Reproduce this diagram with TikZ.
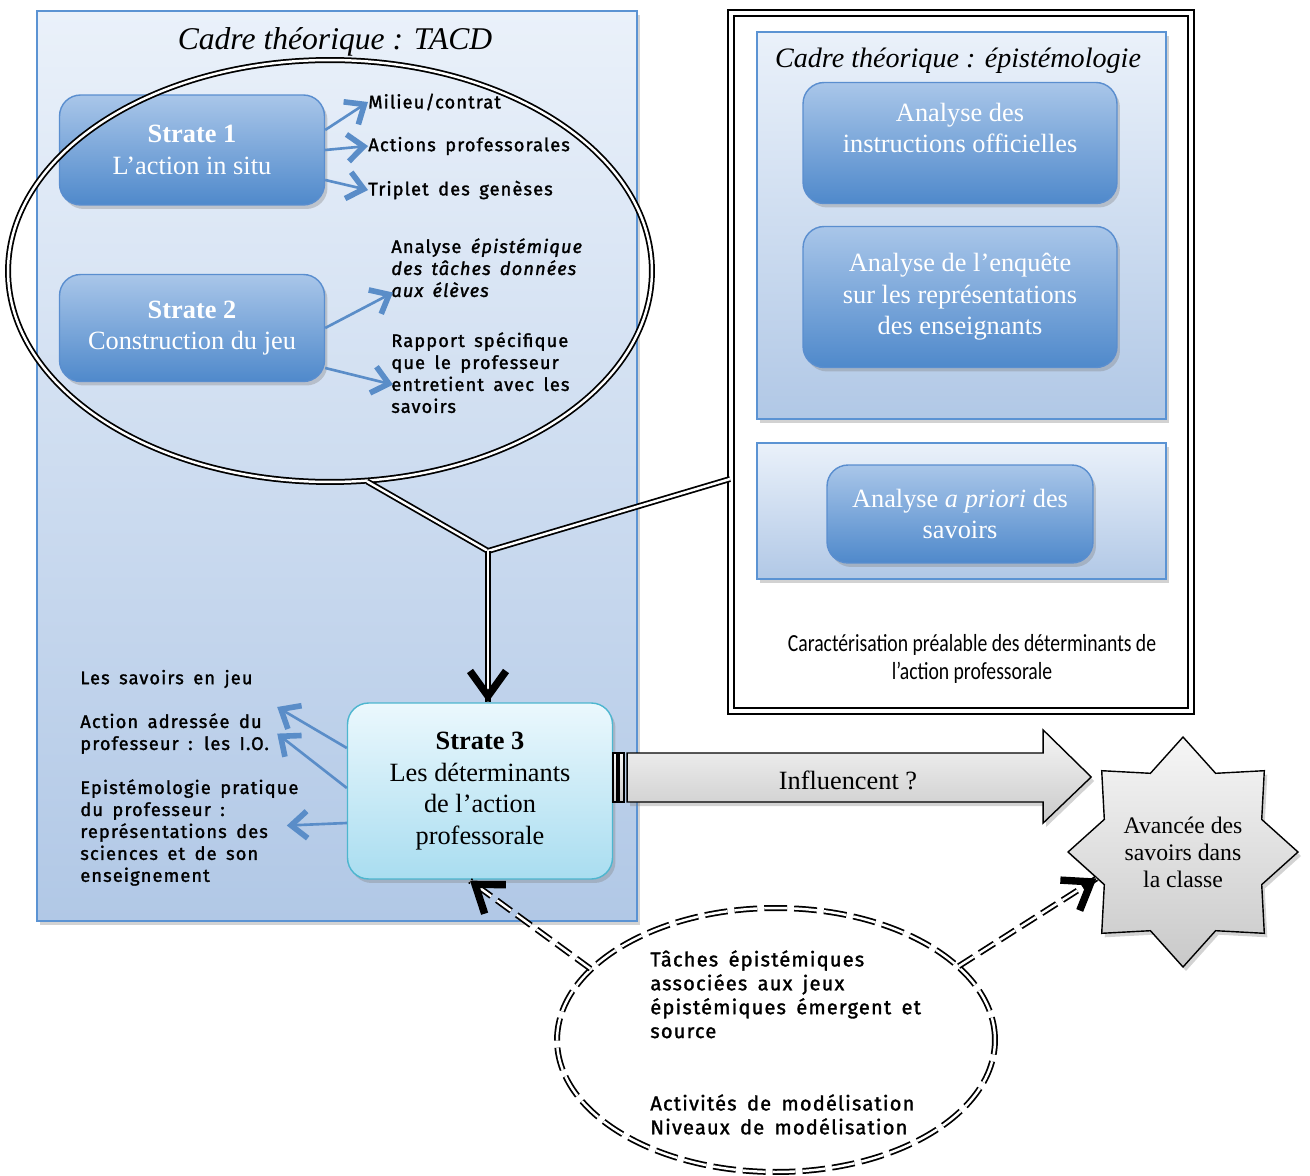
\documentclass[tikz,border=0pt]{standalone}
\usepackage{fontspec}
\setmainfont{Liberation Serif}
\newfontfamily\handfont[LetterSpace=6,WordSpace=1.6,FakeBold=1.5]{Fira Sans}
\newfontfamily\titlefont{Liberation Serif}
\newfontfamily\caracfont[FakeStretch=0.8]{Carlito}
\usetikzlibrary{shapes, arrows.meta, positioning, shadows, calc}

\definecolor{paneltop}{HTML}{EAF1FA}
\definecolor{panelbot}{HTML}{B1C8E6}
\definecolor{panelline}{HTML}{5B93D3}
\definecolor{stratetop}{HTML}{A9C6E9}
\definecolor{stratebot}{HTML}{4F89CB}
\definecolor{strateline}{HTML}{5A8ECF}
\definecolor{cyantop}{HTML}{EBF8FD}
\definecolor{cyanbot}{HTML}{A9DDF0}
\definecolor{cyanline}{HTML}{4DB6CF}
\definecolor{arrowblue}{HTML}{5A8DC8}
\definecolor{greytop}{HTML}{F6F6F6}
\definecolor{greybot}{HTML}{C9C9C9}

\tikzstyle{shadowed} = [drop shadow={shadow xshift=0.6mm, shadow yshift=-0.8mm, opacity=0.35}]
\tikzstyle{panel} = [draw=panelline, line width=1pt, top color=paneltop, bottom color=panelbot, rectangle, anchor=north west, inner sep=0pt, shadowed]
\tikzstyle{strate} = [draw=strateline, line width=0.8pt, rounded corners=12pt, top color=stratetop, bottom color=stratebot, text=white, align=center, font=\fontsize{15}{18}\selectfont, shadowed]
\tikzstyle{hand} = [font=\handfont\fontsize{10.4}{12.5}\selectfont, align=left, inner sep=0pt, anchor=north west]
\tikzstyle{bluearrow} = [draw=arrowblue, line width=1.5pt, -{Straight Barb[length=3.2mm,width=5.4mm,line width=3.2pt]}]
\tikzstyle{dbl} = [double, double distance=1.4pt, line width=1pt]
\tikzstyle{blackhead} = [line width=3pt, -{Straight Barb[length=5mm,width=7.2mm,line width=4.2pt]}]

\begin{document}
\begin{tikzpicture}[x=0.02cm, y=-0.02cm]
  \useasboundingbox (0,0) rectangle (1310,1175);

  % cadre TACD
  \node[panel, minimum width=12cm, minimum height=18.2cm] (tacdpanel) at (36,10) {};
  \node[font=\titlefont\itshape\fontsize{18}{21}\selectfont] (tacdtitle) at (335,42) {Cadre théorique : TACD};
  \node[strate, minimum width=5.3cm, minimum height=2.2cm] (s1) at (192,150) {\textbf{Strate 1}\\L’action in situ};
  \node[strate, minimum width=5.3cm, minimum height=2.14cm] (s2) at (192,328) {\textbf{Strate 2}\\Construction du jeu};
  \node[hand, anchor=west] (mil) at (368,102) {Milieu/contrat};
  \node[hand, anchor=west] (act) at (368,146) {Actions professorales};
  \node[hand, anchor=west] (tri) at (368,190) {Triplet des genèses};
  \node[hand] (epi) at (391,238) {Analyse \textit{épistémique}\\\textit{des tâches données}\\\textit{aux élèves}};
  \node[hand] (rap) at (391,332) {Rapport spécifique\\que le professeur\\entretient avec les\\savoirs};
  \draw[bluearrow] ([yshift=0.4cm]s1.east) -- (mil.west);
  \draw[bluearrow] (s1.east) -- (act.west);
  \draw[bluearrow] ([yshift=-0.6cm]s1.east) -- (tri.west);
  \draw[bluearrow] (s2.east) -- ($(epi.south west)+(2,-5)$);
  \draw[bluearrow] ([yshift=-0.8cm]s2.east) -- ($(rap.west)+(2,12)$);
  \node[draw, ellipse, dbl, minimum width=12.88cm, minimum height=8.44cm, inner sep=0pt] (tacd) at (330,271) {};

  % strate 3
  \node[strate, draw=cyanline, top color=cyantop, bottom color=cyanbot, text=black, minimum width=5.3cm, minimum height=3.52cm] (s3) at (480,791) {\textbf{Strate 3}\\Les déterminants\\de l’action\\professorale};
  \node[hand, anchor=west] (sav) at (80,679) {Les savoirs en jeu};
  \node[hand] (ioa) at (80,713) {Action adressée du\\professeur : les I.O.};
  \node[hand] (epr) at (80,779) {Epistémologie pratique\\du professeur :\\représentations des\\sciences et de son\\enseignement};
  \draw[bluearrow] ([yshift=0.86cm]s3.west) -- ($(ioa.north east)+(8,-6)$);
  \draw[bluearrow] ([yshift=0.06cm]s3.west) -- ($(ioa.east)+(8,0)$);
  \draw[bluearrow] ([yshift=-0.64cm]s3.west) -- ($(epr.east)+(-12,-7)$);

  % cadre epistemologie
  \node[draw, double, double distance=2.2pt, line width=1.3pt, fill=white, anchor=north west, minimum width=9.2cm, minimum height=13.96cm, inner sep=0pt, shadowed] (epiframe) at (730,12) {};
  \node[panel, minimum width=8.18cm, minimum height=7.74cm] (epipanel) at (756,31) {};
  \node[font=\titlefont\itshape\fontsize{16}{19}\selectfont] (epititle) at (958,61) {Cadre théorique : épistémologie};
  \node[strate, minimum width=6.28cm, minimum height=2.42cm, text depth=0.6cm] (io) at (960,143) {Analyse des\\instructions officielles};
  \node[strate, minimum width=6.28cm, minimum height=2.82cm] (enq) at (960,297) {Analyse de l’enquête\\sur les représentations\\des enseignants};
  \node[panel, minimum width=8.18cm, minimum height=2.72cm] (apanel) at (756,442) {};
  \node[strate, minimum width=5.32cm, minimum height=1.96cm] (apriori) at (960,514) {Analyse \textit{a priori} des\\savoirs};
  \node[font=\caracfont\fontsize{14}{15.6}\selectfont, align=center] (carac) at (972,659) {Caractérisation préalable des déterminants de\\l’action professorale};

  % jonction vers strate 3
  \coordinate (junc) at (488,551);
  \draw[dbl] (tacd.-80) -- (junc);
  \draw[dbl] ($(epiframe.north west)+(0,467)$) -- (junc);
  \draw[dbl] (junc) -- (s3.north -| junc);
  \draw[blackhead] ($(junc)!0.95!(s3.north -| junc)$) -- (s3.north -| junc);

  % fleche influencent
  \coordinate (infl0) at ($(s3.east)+(0,-38)$);
  \draw[top color=greytop, bottom color=greybot, line width=0.8pt] (infl0) rectangle ($(infl0)+(4,49)$);
  \draw[top color=greytop, bottom color=greybot, line width=0.8pt] ($(infl0)+(6,0)$) rectangle ($(infl0)+(11,49)$);
  \draw[top color=greytop, bottom color=greybot, line width=0.8pt, shadowed] ($(infl0)+(14,0)$) -- ++(416,0) -- ++(0,-23) -- ++(48,47) -- ++(-48,46) -- ++(0,-21) -- ++(-416,0) -- cycle;
  \node[font=\fontsize{15}{18}\selectfont] (infl) at (848,780) {Influencent ?};

  \node[star, star points=8, star point ratio=1.35, minimum size=4.6cm, inner sep=0pt, draw, line width=0.8pt, top color=greytop, bottom color=greybot, align=center, font=\fontsize{13.5}{15.3}\selectfont, shadowed] (avance) at (1183,852) {Avancée des\\savoirs dans\\la classe};

  % jeux epistemiques
  \node[draw, ellipse, dbl, dash pattern=on 13pt off 4pt, minimum width=8.76cm, minimum height=5.28cm, inner sep=0pt] (jeux) at (776,1040) {};
  \node[hand, font=\handfont\fontsize{11.4}{13.6}\selectfont] (taches) at (650,950) {Tâches épistémiques\\associées aux jeux\\épistémiques émergent et\\source};
  \node[hand, font=\handfont\fontsize{11.4}{13.6}\selectfont] (modeles) at (650,1094) {Activités de modélisation\\Niveaux de modélisation};
  \draw[dbl, dash pattern=on 10pt off 4pt] (jeux.159) -- ($(s3.south)+(-10,1)$);
  \draw[blackhead] ($(jeux.159)!0.93!($(s3.south)+(-10,1)$)$) -- ($(s3.south)+(-10,1)$);
  \draw[dbl, dash pattern=on 10pt off 4pt] (jeux.22) -- (avance.197);
  \draw[blackhead] ($(jeux.22)!0.9!(avance.197)$) -- (avance.197);
\end{tikzpicture}
\end{document}
